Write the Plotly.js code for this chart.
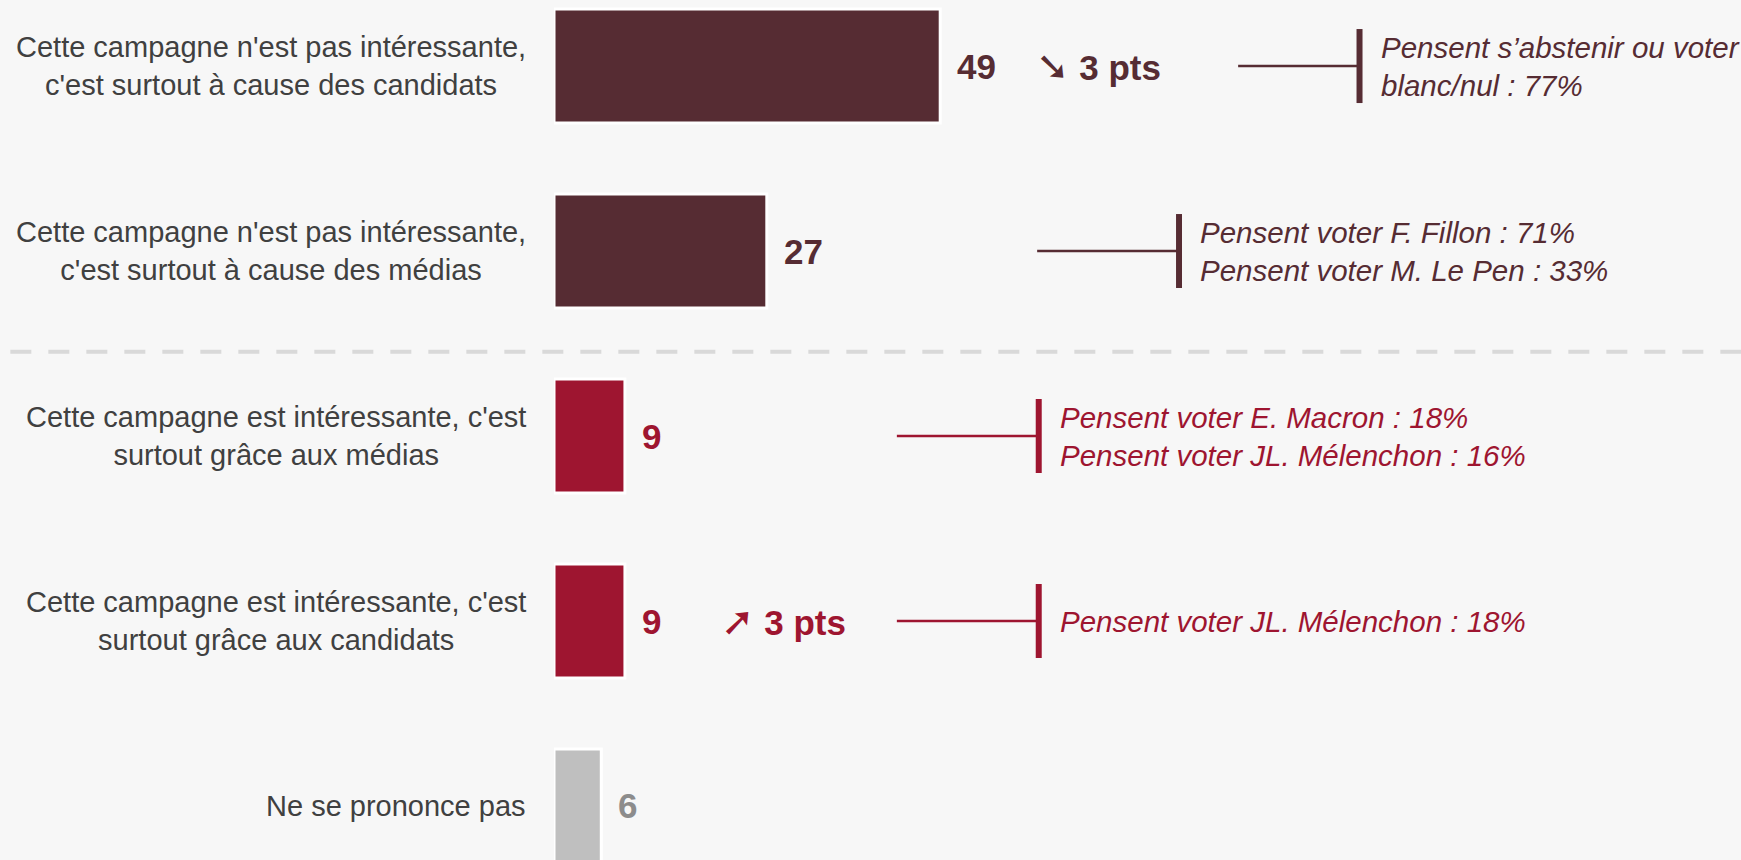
<!DOCTYPE html>
<html>
<head>
<meta charset="utf-8">
<script src="https://cdn.plot.ly/plotly-3.0.1.min.js"></script>
<style>
  body { margin: 0; background: #f7f7f7; }
  #graph { width: 1741px; height: 860px; }
</style>
</head>
<body>
<div id="graph"></div>
<script>
// Survey answers, top to bottom
const categories = [
    "Cette campagne n'est pas intéressante,<br>c'est surtout à cause des candidats",
    "Cette campagne n'est pas intéressante,<br>c'est surtout à cause des médias",
    "Cette campagne est intéressante, c'est<br>surtout grâce aux médias",
    "Cette campagne est intéressante, c'est<br>surtout grâce aux candidats",
    "Ne se prononce pas"
];
const values = [49, 27, 9, 9, 6];
// change vs previous wave, in points
const changes = [-3, null, null, 3, null];
const callouts = [
    "Pensent s’abstenir ou voter<br>blanc/nul : 77%",
    "Pensent voter F. Fillon : 71%<br>Pensent voter M. Le Pen : 33%",
    "Pensent voter E. Macron : 18%<br>Pensent voter JL. Mélenchon : 16%",
    "Pensent voter JL. Mélenchon : 18%",
    null
];

// colours
const maroon = '#562c33';
const crimson = '#9e1530';
const barColors = [maroon, maroon, crimson, crimson, '#bfbfbf'];
const labelColors = [maroon, maroon, crimson, crimson, '#8c8c8c'];

// where the callout connectors sit, in x axis units
const calloutStart = [86.8, 61.3, 43.5, 43.5];
const calloutEnd = [102.2, 79.3, 61.5, 61.5];

const font = '"Liberation Sans", Arial, sans-serif';

const trace = {
    type: 'bar',
    orientation: 'h',
    x: values,
    y: categories,
    marker: { color: barColors, line: { color: '#ffffff', width: 3 } },
    hoverinfo: 'none'
};

const annotations = [];
const shapes = [];

categories.forEach((cat, i) => {
    // category label on the left
    annotations.push({
        xref: 'x', yref: 'y', x: 0, y: cat, xshift: -26,
        xanchor: 'right', yanchor: 'middle', align: 'center',
        text: cat, showarrow: false,
        font: { family: font, size: 29, color: '#404040' }
    });
    // value
    annotations.push({
        xref: 'x', yref: 'y', x: values[i], y: cat, xshift: 15,
        xanchor: 'left', yanchor: 'middle',
        text: '<b>' + values[i] + '</b>', showarrow: false,
        font: { family: font, size: 35, color: labelColors[i] }
    });
    // evolution
    if (changes[i] !== null) {
        const arrow = changes[i] < 0 ? '➘' : '➚';
        annotations.push({
            xref: 'x', yref: 'y', x: values[i], y: cat, xshift: 94,
            xanchor: 'left', yanchor: 'middle',
            text: '<span style="font-family:DejaVu Sans;font-size:40px;font-weight:bold">' + arrow +
                '</span><b> ' + Math.abs(changes[i]) + ' pts</b>',
            showarrow: false,
            font: { family: font, size: 35, color: labelColors[i] }
        });
    }
    // callout with bracket
    if (callouts[i]) {
        shapes.push({
            type: 'line', xref: 'x', yref: 'y',
            x0: calloutStart[i], x1: calloutEnd[i], y0: i, y1: i,
            line: { color: labelColors[i], width: 2.5 }
        });
        shapes.push({
            type: 'line', xref: 'x', yref: 'y',
            x0: calloutEnd[i], x1: calloutEnd[i], y0: i - 0.2, y1: i + 0.2,
            line: { color: labelColors[i], width: 6 }
        });
        annotations.push({
            xref: 'x', yref: 'y', x: calloutEnd[i], y: cat, xshift: 19,
            xanchor: 'left', yanchor: 'middle', align: 'left',
            text: '<i>' + callouts[i] + '</i>', showarrow: false,
            font: { family: font, size: 29.5, color: labelColors[i] }
        });
    }
});

// dashed separator between negative and positive answers
shapes.push({
    type: 'line', xref: 'paper', yref: 'y',
    x0: -0.458, x1: 1, y0: 1.545, y1: 1.545,
    line: { color: '#d9d9d9', width: 4, dash: '21px,17px' }
});

const layout = {
    width: 1741,
    height: 860,
    margin: { l: 554, r: 0, t: 0, b: 0 },
    paper_bgcolor: '#f7f7f7',
    plot_bgcolor: '#f7f7f7',
    showlegend: false,
    bargap: 0.384,
    xaxis: { range: [0, 150.6], visible: false, fixedrange: true },
    yaxis: {
        type: 'category',
        range: [4.292, -0.357],
        showticklabels: false,
        showgrid: false,
        zeroline: false,
        fixedrange: true
    },
    annotations: annotations,
    shapes: shapes
};

Plotly.newPlot('graph', [trace], layout, { displayModeBar: false, staticPlot: true });
</script>
</body>
</html>
